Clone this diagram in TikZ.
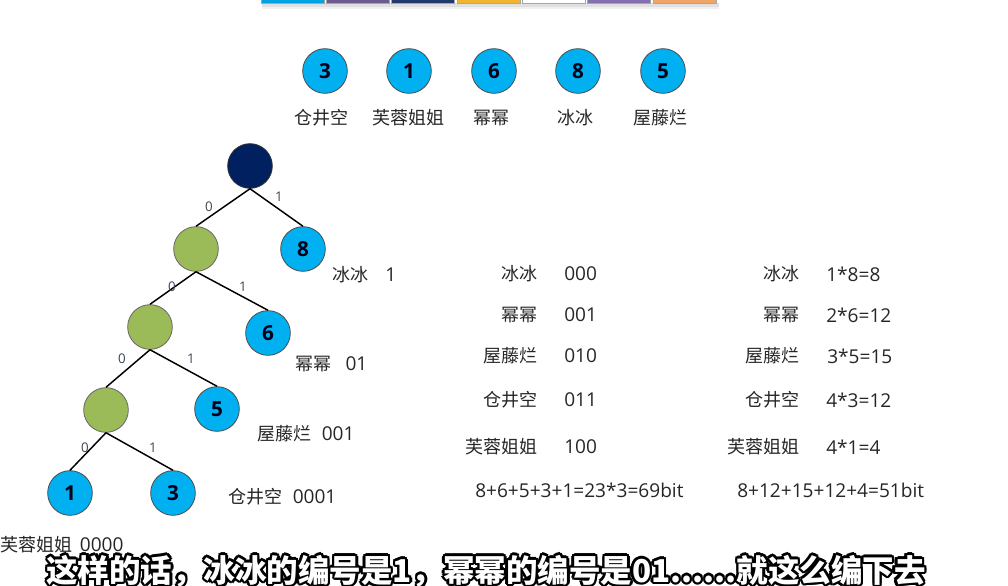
\documentclass[tikz,border=0pt]{standalone}
\usepackage{fontspec}
\setmainfont{Open Sans}
\newfontfamily\cjk{Noto Sans CJK SC}
\usepackage{xcolor}
\usetikzlibrary{positioning}

\definecolor{leafblue}{HTML}{00B0F0}
\definecolor{innergreen}{HTML}{9BBB59}
\definecolor{rootnavy}{HTML}{002060}
\definecolor{tabblue}{HTML}{00A3E0}
\definecolor{tabgray}{HTML}{6B5B8E}
\definecolor{tabnavy}{HTML}{1F3A6B}
\definecolor{tabgold}{HTML}{F2B531}
\definecolor{tabwhite}{HTML}{FFFFFF}
\definecolor{tablilac}{HTML}{8470B0}
\definecolor{taborange}{HTML}{F0A466}
\definecolor{bitgray}{HTML}{3A4654}

\newcommand{\zh}[1]{{\cjk\fontsize{13.5}{16}\selectfont #1}}
\newcommand{\captiontext}{这样的话，冰冰的编号是1，幂幂的编号是01......就这么编下去}

\begin{document}
\begin{tikzpicture}[x=0.75pt, y=-0.75pt,
    leaf/.style={circle, draw=black!70, line width=0.6pt, fill=leafblue, minimum size=33.5pt, inner sep=0pt, font=\fontsize{15.5}{18}\selectfont\bfseries, text=black!90!blue},
    inner/.style={circle, draw=black!60, line width=0.6pt, fill=innergreen, minimum size=33.5pt, inner sep=0pt},
    branch/.style={line width=1.1pt},
    bitlabel/.style={font=\fontsize{10}{12}\selectfont, text=bitgray, inner sep=0pt},
    lbl/.style={font=\fontsize{14.3}{17}\selectfont, text=black!85, inner sep=0pt},
    cn/.style={font=\cjk\fontsize{13.5}{16}\selectfont, text=black!85, inner sep=0pt},
    subtitle/.style={font=\cjk\fontsize{23.6}{28}\selectfont\bfseries, inner sep=0pt}
]
    \useasboundingbox (0,0) rectangle (1008,586);
    \clip (0,0) rectangle (1008,586);

    % Tab strip at the top
    \fill[black!12] (262,3) rectangle (719,7);
    \fill[black!6] (262,7) rectangle (719,9);
    \foreach \c [count=\i from 0] in {tabblue,tabgray,tabnavy,tabgold,tabwhite,tablilac,taborange}
        \filldraw[fill=\c, draw=black!35, line width=0.4pt] (261+\i*65.3,-2) rectangle (324+\i*65.3,3);

    % Weights
    \node[leaf] (w3) at (325,71) {3};
    \node[leaf] (w1) at (409,71) {1};
    \node[leaf] (w6) at (494,71) {6};
    \node[leaf] (w8) at (578,71) {8};
    \node[leaf] (w5) at (663,71) {5};
    \node[cn] (n3) at (321,118) {仓井空};
    \node[cn] (n1) at (408,118) {芙蓉姐姐};
    \node[cn] (n6) at (491,118) {幂幂};
    \node[cn] (n8) at (575,118) {冰冰};
    \node[cn] (n5) at (660,118) {屋藤烂};

    % Tree
    \node[inner, fill=rootnavy, draw=black!80] (root) at (250,166) {};
    \node[inner] (t0) at (196,249) {};
    \node[leaf] (bing) at (303,249) {8};
    \node[inner] (t00) at (150,327) {};
    \node[leaf] (mi) at (268,333) {6};
    \node[inner] (t000) at (106,410) {};
    \node[leaf] (wu) at (217,409) {5};
    \node[leaf] (fu) at (70,493) {1};
    \node[leaf] (cang) at (173,493) {3};

    \draw[branch] (root.south) -- (t0.north);
    \draw[branch] (root.south) -- (bing.north);
    \draw[branch] (t0.south) -- (t00.north);
    \draw[branch] (t0.south) -- (mi.north);
    \draw[branch] (t00.south) -- (t000.north);
    \draw[branch] (t00.south) -- (wu.north);
    \draw[branch] (t000.south) -- (fu.north);
    \draw[branch] (t000.south) -- (cang.north);

    % Branch bits
    \node[bitlabel] (b1l) at (209,207) {0};
    \node[bitlabel] (b1r) at (279,197) {1};
    \node[bitlabel] (b2l) at (172,287) {0};
    \node[bitlabel] (b2r) at (243,287) {1};
    \node[bitlabel] (b3l) at (122,359) {0};
    \node[bitlabel] (b3r) at (191,359) {1};
    \node[bitlabel] (b4l) at (85,448) {0};
    \node[bitlabel] (b4r) at (153,448) {1};

    % Codes beside the tree
    \node[lbl, anchor=west] (c8) at (332,275) {\zh{冰冰}\hspace{0.9em}1};
    \node[lbl, anchor=west] (c6) at (295,364) {\zh{幂幂}\hspace{0.75em}01};
    \node[lbl, anchor=west] (c5) at (257,434) {\zh{屋藤烂}\hspace{0.55em}001};
    \node[lbl, anchor=west] (c3) at (228,497) {\zh{仓井空}\hspace{0.55em}0001};
    \node[lbl, anchor=west] (c1) at (0,545) {\zh{芙蓉姐姐}\hspace{0.4em}0000};

    % Fixed length codes
    \node[cn, anchor=east] (f8) at (538,274) {冰冰};
    \node[cn, anchor=east] (f6) at (538,315) {幂幂};
    \node[cn, anchor=east] (f5) at (538,356) {屋藤烂};
    \node[cn, anchor=east] (f3) at (538,400) {仓井空};
    \node[cn, anchor=east] (f1) at (538,447) {芙蓉姐姐};
    \node[lbl, anchor=west] (g8) at (564,274) {000};
    \node[lbl, anchor=west] (g6) at (564,315) {001};
    \node[lbl, anchor=west] (g5) at (564,356) {010};
    \node[lbl, anchor=west] (g3) at (564,400) {011};
    \node[lbl, anchor=west] (g1) at (564,447) {100};
    \node[lbl, anchor=west] (gsum) at (475,490) {8+6+5+3+1=23*3=69bit};

    % Weighted lengths
    \node[cn, anchor=east] (h8) at (800,274) {冰冰};
    \node[cn, anchor=east] (h6) at (800,315) {幂幂};
    \node[cn, anchor=east] (h5) at (800,356) {屋藤烂};
    \node[cn, anchor=east] (h3) at (800,400) {仓井空};
    \node[cn, anchor=east] (h1) at (800,447) {芙蓉姐姐};
    \node[lbl, anchor=west] (k8) at (826,274) {1*8=8};
    \node[lbl, anchor=west] (k6) at (826,315) {2*6=12};
    \node[lbl, anchor=west] (k5) at (827,356) {3*5=15};
    \node[lbl, anchor=west] (k3) at (826,400) {4*3=12};
    \node[lbl, anchor=west] (k1) at (826,447) {4*1=4};
    \node[lbl, anchor=west] (ksum) at (737,490) {8+12+15+12+4=51bit};

    % Subtitle
    \foreach \ang in {0,30,...,330}
        \node[subtitle, text=black, xshift={1.8pt*cos(\ang)}, yshift={1.8pt*sin(\ang)}] (cap\ang) at (486,571) {\captiontext};
    \node[subtitle, text=white] (cap) at (486,571) {\captiontext};
\end{tikzpicture}
\end{document}
